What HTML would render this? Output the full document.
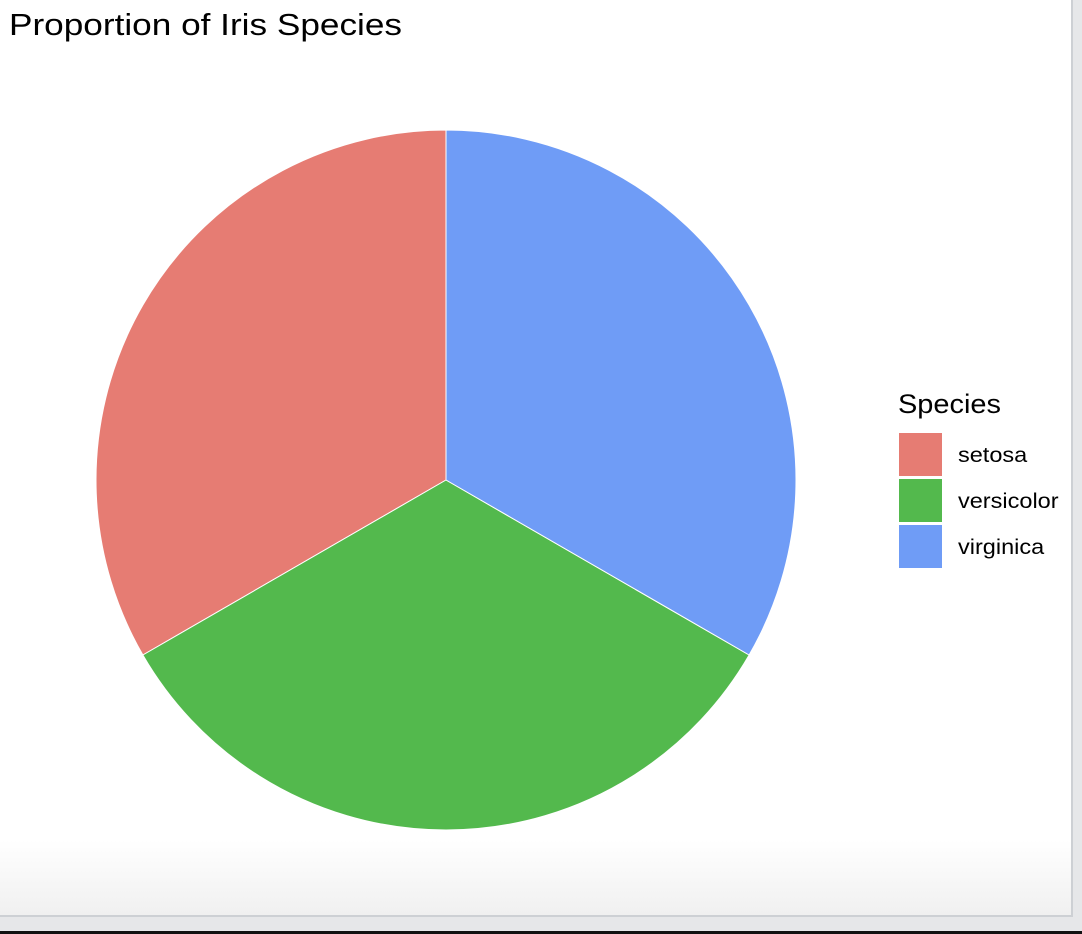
<!DOCTYPE html>
<html><head><meta charset="utf-8"><style>
body{margin:0;width:1082px;height:934px;overflow:hidden;background:#e6e7e9;font-family:"Liberation Sans",sans-serif;}
#panel{position:absolute;left:0;top:0;width:1071px;height:915px;background:linear-gradient(#fff 0,#fff 840px,#f0f0f0 915px);border-right:2px solid #cdd0d4;border-bottom:2px solid #cdd0d4;}
#bar{position:absolute;left:0;top:931px;width:1082px;height:3px;background:#111;}
</style></head><body>
<div id="panel"></div>
<div id="bar"></div>
<svg width="1082" height="934" style="position:absolute;left:0;top:0">
<text x="9" y="35" font-size="31" textLength="393" lengthAdjust="spacingAndGlyphs" fill="#000">Proportion of Iris Species</text>
<g id="pie"></g>
<text x="898" y="413" font-size="27" textLength="103" lengthAdjust="spacingAndGlyphs" fill="#000">Species</text>
<g id="legend"></g>
</svg>
<script>
const categories=["setosa","versicolor","virginica"];
const counts=[50,50,50];
const colors=["#E67C73","#53B94D","#6F9CF6"];
const cx=446,cy=480,r=350;
const ns="http://www.w3.org/2000/svg";
const pie=document.getElementById('pie');
const total=counts.reduce((a,b)=>a+b,0);
let a0=0;
function pt(a){return [cx-r*Math.sin(a),cy-r*Math.cos(a)];}
counts.forEach((v,i)=>{
  const a1=a0+v/total*2*Math.PI;
  const p0=pt(a0),p1=pt(a1);
  const large=(a1-a0)>Math.PI?1:0;
  const p=document.createElementNS(ns,'path');
  p.setAttribute('d',`M${cx},${cy}L${p0[0]},${p0[1]}A${r},${r} 0 ${large} 0 ${p1[0]},${p1[1]}Z`);
  p.setAttribute('fill',colors[i]);
  p.setAttribute('stroke','#fff');
  p.setAttribute('stroke-width','1');
  
  
  pie.appendChild(p);
  a0=a1;
});
const lg=document.getElementById('legend');
categories.forEach((c,i)=>{
  const y=433+i*46;
  const rc=document.createElementNS(ns,'rect');
  rc.setAttribute('x',899);rc.setAttribute('y',y);rc.setAttribute('width',43);rc.setAttribute('height',43);
  rc.setAttribute('fill',colors[i]);
  
  
  lg.appendChild(rc);
  const t=document.createElementNS(ns,'text');
  t.setAttribute('x',958);t.setAttribute('y',y+29);t.setAttribute('font-size','21');
  t.setAttribute('transform',`translate(958,0) scale(1.12,1) translate(-958,0)`);
  t.textContent=c;
  
  
  lg.appendChild(t);
});
</script>
</body></html>
